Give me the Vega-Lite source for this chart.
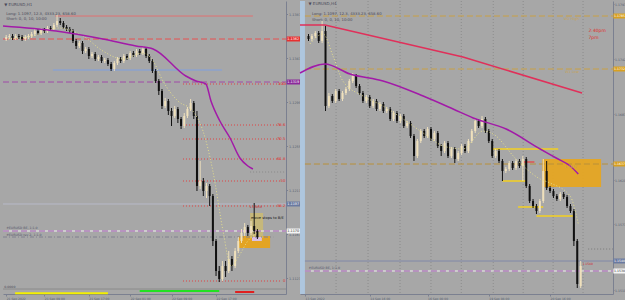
{
"$schema":"https://vega.github.io/schema/vega-lite/v6.json",
"background":"#a7a7a7",
"padding":0,
"spacing":14,
"bounds":"flush",
"config":{"view":{"stroke":null},"font":"DejaVu Sans"},
"datasets":{
"L":[{"i":0,"o":11362,"h":11366,"l":11360,"c":11364},{"i":1,"o":11364,"h":11367,"l":11362,"c":11365},{"i":2,"o":11365,"h":11367,"l":11361,"c":11363},{"i":3,"o":11363,"h":11367,"l":11361,"c":11365},{"i":4,"o":11365,"h":11367,"l":11362,"c":11364},{"i":5,"o":11364,"h":11366,"l":11360,"c":11362},{"i":6,"o":11362,"h":11366,"l":11360,"c":11364},{"i":7,"o":11364,"h":11367,"l":11362,"c":11365},{"i":8,"o":11365,"h":11369,"l":11363,"c":11367},{"i":9,"o":11367,"h":11372,"l":11365,"c":11370},{"i":10,"o":11370,"h":11372,"l":11366,"c":11368},{"i":11,"o":11368,"h":11373,"l":11366,"c":11371},{"i":12,"o":11371,"h":11373,"l":11368,"c":11370},{"i":13,"o":11370,"h":11375,"l":11368,"c":11373},{"i":14,"o":11373,"h":11375,"l":11370,"c":11372},{"i":15,"o":11372,"h":11378,"l":11370,"c":11376},{"i":16,"o":11376,"h":11386,"l":11374,"c":11380},{"i":17,"o":11380,"h":11383,"l":11376,"c":11378},{"i":18,"o":11378,"h":11380,"l":11372,"c":11374},{"i":19,"o":11374,"h":11376,"l":11370,"c":11372},{"i":20,"o":11372,"h":11374,"l":11368,"c":11370},{"i":21,"o":11370,"h":11372,"l":11358,"c":11360},{"i":22,"o":11360,"h":11362,"l":11352,"c":11355},{"i":23,"o":11355,"h":11360,"l":11353,"c":11358},{"i":24,"o":11358,"h":11360,"l":11347,"c":11350},{"i":25,"o":11350,"h":11354,"l":11348,"c":11352},{"i":26,"o":11352,"h":11354,"l":11342,"c":11345},{"i":27,"o":11345,"h":11349,"l":11343,"c":11347},{"i":28,"o":11347,"h":11349,"l":11340,"c":11342},{"i":29,"o":11342,"h":11346,"l":11340,"c":11344},{"i":30,"o":11344,"h":11346,"l":11338,"c":11340},{"i":31,"o":11340,"h":11343,"l":11338,"c":11341},{"i":32,"o":11341,"h":11343,"l":11335,"c":11337},{"i":33,"o":11337,"h":11339,"l":11330,"c":11332},{"i":34,"o":11332,"h":11340,"l":11330,"c":11338},{"i":35,"o":11338,"h":11344,"l":11336,"c":11342},{"i":36,"o":11342,"h":11344,"l":11338,"c":11340},{"i":37,"o":11340,"h":11347,"l":11338,"c":11345},{"i":38,"o":11345,"h":11347,"l":11341,"c":11343},{"i":39,"o":11343,"h":11350,"l":11341,"c":11348},{"i":40,"o":11348,"h":11350,"l":11344,"c":11346},{"i":41,"o":11346,"h":11352,"l":11344,"c":11350},{"i":42,"o":11350,"h":11352,"l":11346,"c":11348},{"i":43,"o":11348,"h":11355,"l":11346,"c":11352},{"i":44,"o":11352,"h":11354,"l":11343,"c":11345},{"i":45,"o":11345,"h":11347,"l":11338,"c":11340},{"i":46,"o":11340,"h":11342,"l":11328,"c":11330},{"i":47,"o":11330,"h":11332,"l":11318,"c":11320},{"i":48,"o":11320,"h":11322,"l":11306,"c":11310},{"i":49,"o":11310,"h":11312,"l":11292,"c":11295},{"i":50,"o":11295,"h":11303,"l":11293,"c":11300},{"i":51,"o":11300,"h":11302,"l":11286,"c":11290},{"i":52,"o":11290,"h":11293,"l":11275,"c":11285},{"i":53,"o":11285,"h":11295,"l":11283,"c":11292},{"i":54,"o":11292,"h":11294,"l":11278,"c":11282},{"i":55,"o":11282,"h":11284,"l":11272,"c":11275},{"i":56,"o":11275,"h":11288,"l":11273,"c":11285},{"i":57,"o":11285,"h":11294,"l":11283,"c":11292},{"i":58,"o":11292,"h":11302,"l":11290,"c":11298},{"i":59,"o":11298,"h":11300,"l":11282,"c":11285},{"i":60,"o":11285,"h":11290,"l":11210,"c":11215},{"i":61,"o":11215,"h":11240,"l":11212,"c":11220},{"i":62,"o":11220,"h":11223,"l":11205,"c":11210},{"i":63,"o":11210,"h":11218,"l":11203,"c":11215},{"i":64,"o":11215,"h":11217,"l":11195,"c":11205},{"i":65,"o":11205,"h":11207,"l":11155,"c":11160},{"i":66,"o":11160,"h":11162,"l":11125,"c":11130},{"i":67,"o":11130,"h":11135,"l":11119,"c":11122},{"i":68,"o":11122,"h":11140,"l":11120,"c":11135},{"i":69,"o":11135,"h":11140,"l":11124,"c":11130},{"i":70,"o":11130,"h":11150,"l":11128,"c":11142},{"i":71,"o":11142,"h":11145,"l":11130,"c":11135},{"i":72,"o":11135,"h":11153,"l":11133,"c":11150},{"i":73,"o":11150,"h":11164,"l":11148,"c":11160},{"i":74,"o":11160,"h":11172,"l":11158,"c":11168},{"i":75,"o":11168,"h":11178,"l":11165,"c":11174},{"i":76,"o":11174,"h":11176,"l":11165,"c":11168},{"i":77,"o":11168,"h":11180,"l":11166,"c":11175},{"i":78,"o":11175,"h":11198,"l":11167,"c":11170},{"i":79,"o":11170,"h":11172,"l":11162,"c":11164}],
"R":[{"i":0,"o":11765,"h":11767,"l":11760,"c":11762},{"i":1,"o":11762,"h":11767,"l":11760,"c":11765},{"i":2,"o":11765,"h":11770,"l":11763,"c":11768},{"i":3,"o":11768,"h":11770,"l":11758,"c":11760},{"i":4,"o":11760,"h":11780,"l":11758,"c":11770},{"i":5,"o":11770,"h":11775,"l":11690,"c":11695},{"i":6,"o":11695,"h":11708,"l":11693,"c":11705},{"i":7,"o":11705,"h":11707,"l":11698,"c":11700},{"i":8,"o":11700,"h":11712,"l":11698,"c":11710},{"i":9,"o":11710,"h":11712,"l":11700,"c":11702},{"i":10,"o":11702,"h":11710,"l":11700,"c":11708},{"i":11,"o":11708,"h":11714,"l":11706,"c":11712},{"i":12,"o":11712,"h":11722,"l":11710,"c":11720},{"i":13,"o":11720,"h":11728,"l":11718,"c":11725},{"i":14,"o":11725,"h":11727,"l":11713,"c":11715},{"i":15,"o":11715,"h":11717,"l":11706,"c":11708},{"i":16,"o":11708,"h":11710,"l":11698,"c":11700},{"i":17,"o":11700,"h":11706,"l":11698,"c":11704},{"i":18,"o":11704,"h":11706,"l":11693,"c":11695},{"i":19,"o":11695,"h":11702,"l":11693,"c":11700},{"i":20,"o":11700,"h":11702,"l":11690,"c":11692},{"i":21,"o":11692,"h":11699,"l":11690,"c":11697},{"i":22,"o":11697,"h":11699,"l":11688,"c":11690},{"i":23,"o":11690,"h":11694,"l":11688,"c":11692},{"i":24,"o":11692,"h":11694,"l":11680,"c":11682},{"i":25,"o":11682,"h":11690,"l":11680,"c":11688},{"i":26,"o":11688,"h":11690,"l":11678,"c":11680},{"i":27,"o":11680,"h":11687,"l":11678,"c":11685},{"i":28,"o":11685,"h":11687,"l":11673,"c":11675},{"i":29,"o":11675,"h":11680,"l":11673,"c":11678},{"i":30,"o":11678,"h":11680,"l":11663,"c":11665},{"i":31,"o":11665,"h":11667,"l":11640,"c":11645},{"i":32,"o":11645,"h":11662,"l":11643,"c":11660},{"i":33,"o":11660,"h":11672,"l":11658,"c":11670},{"i":34,"o":11670,"h":11672,"l":11663,"c":11665},{"i":35,"o":11665,"h":11674,"l":11663,"c":11672},{"i":36,"o":11672,"h":11674,"l":11660,"c":11662},{"i":37,"o":11662,"h":11670,"l":11660,"c":11668},{"i":38,"o":11668,"h":11670,"l":11653,"c":11655},{"i":39,"o":11655,"h":11657,"l":11645,"c":11650},{"i":40,"o":11650,"h":11660,"l":11648,"c":11658},{"i":41,"o":11658,"h":11660,"l":11643,"c":11645},{"i":42,"o":11645,"h":11654,"l":11643,"c":11652},{"i":43,"o":11652,"h":11654,"l":11638,"c":11642},{"i":44,"o":11642,"h":11650,"l":11640,"c":11648},{"i":45,"o":11648,"h":11657,"l":11646,"c":11655},{"i":46,"o":11655,"h":11657,"l":11648,"c":11650},{"i":47,"o":11650,"h":11662,"l":11648,"c":11660},{"i":48,"o":11660,"h":11672,"l":11658,"c":11670},{"i":49,"o":11670,"h":11683,"l":11668,"c":11680},{"i":50,"o":11680,"h":11682,"l":11673,"c":11675},{"i":51,"o":11675,"h":11685,"l":11673,"c":11682},{"i":52,"o":11682,"h":11684,"l":11668,"c":11670},{"i":53,"o":11670,"h":11672,"l":11658,"c":11660},{"i":54,"o":11660,"h":11662,"l":11643,"c":11645},{"i":55,"o":11645,"h":11652,"l":11643,"c":11650},{"i":56,"o":11650,"h":11652,"l":11638,"c":11640},{"i":57,"o":11640,"h":11642,"l":11620,"c":11630},{"i":58,"o":11630,"h":11634,"l":11628,"c":11632},{"i":59,"o":11632,"h":11640,"l":11630,"c":11638},{"i":60,"o":11638,"h":11640,"l":11631,"c":11633},{"i":61,"o":11633,"h":11642,"l":11631,"c":11640},{"i":62,"o":11640,"h":11642,"l":11633,"c":11635},{"i":63,"o":11635,"h":11645,"l":11620,"c":11642},{"i":64,"o":11642,"h":11644,"l":11613,"c":11615},{"i":65,"o":11615,"h":11617,"l":11598,"c":11600},{"i":66,"o":11600,"h":11602,"l":11593,"c":11595},{"i":67,"o":11595,"h":11597,"l":11587,"c":11590},{"i":68,"o":11590,"h":11602,"l":11588,"c":11600},{"i":69,"o":11600,"h":11642,"l":11598,"c":11630},{"i":70,"o":11630,"h":11640,"l":11611,"c":11613},{"i":71,"o":11613,"h":11615,"l":11608,"c":11610},{"i":72,"o":11610,"h":11612,"l":11603,"c":11605},{"i":73,"o":11605,"h":11607,"l":11600,"c":11602},{"i":74,"o":11602,"h":11609,"l":11600,"c":11607},{"i":75,"o":11607,"h":11609,"l":11602,"c":11604},{"i":76,"o":11604,"h":11606,"l":11593,"c":11595},{"i":77,"o":11595,"h":11597,"l":11588,"c":11590},{"i":78,"o":11590,"h":11592,"l":11555,"c":11560},{"i":79,"o":11560,"h":11562,"l":11513,"c":11517},{"i":80,"o":11515,"h":11540,"l":11513,"c":11535}],
"Lma":[{"i":-1,"v":11375},{"i":15.7,"v":11370},{"i":30.4,"v":11362},{"i":40.8,"v":11355},{"i":46.2,"v":11352},{"i":56.5,"v":11325},{"i":59.7,"v":11320},{"i":62.8,"v":11317},{"i":64.4,"v":11300},{"i":67.2,"v":11280},{"i":70.4,"v":11263},{"i":73.5,"v":11243},{"i":76,"v":11235},{"i":77.6,"v":11232}],
"Lfast":[{"i":0.6,"v":11362},{"i":8.4,"v":11365},{"i":16.3,"v":11373},{"i":24.2,"v":11365},{"i":30.4,"v":11350},{"i":36.7,"v":11342},{"i":43,"v":11348},{"i":46.2,"v":11340},{"i":49.3,"v":11320},{"i":54,"v":11300},{"i":58.7,"v":11290},{"i":61.9,"v":11270},{"i":65,"v":11230},{"i":68.2,"v":11170},{"i":70.7,"v":11135},{"i":73.2,"v":11145},{"i":76,"v":11160},{"i":79.2,"v":11168}],
"Rma1":[{"i":-2.5,"v":11776},{"i":4.85,"v":11776},{"i":45.4,"v":11744},{"i":80.4,"v":11708}],
"Rma2":[{"i":-2.5,"v":11728},{"i":4.85,"v":11737},{"i":12.2,"v":11727},{"i":21.9,"v":11720},{"i":33.7,"v":11705},{"i":42.5,"v":11692},{"i":48.4,"v":11683},{"i":58.1,"v":11672},{"i":68.1,"v":11652},{"i":72.8,"v":11643},{"i":76.9,"v":11635},{"i":79.3,"v":11627}],
"Rfast":[{"i":0.4,"v":11757},{"i":4.3,"v":11767},{"i":7.2,"v":11745},{"i":10.1,"v":11720},{"i":16,"v":11705},{"i":21.9,"v":11695},{"i":27.8,"v":11682},{"i":33.7,"v":11668},{"i":39.6,"v":11655},{"i":45.4,"v":11652},{"i":51.3,"v":11670},{"i":54.3,"v":11667},{"i":61,"v":11642},{"i":68.1,"v":11622},{"i":71,"v":11618},{"i":76.9,"v":11605},{"i":79.3,"v":11577}]
},
"hconcat":[
{
"width":283,"height":293,
"layer":[
{"data":{"values":[{"x":73.2,"x2":83,"y":11153,"y2":11165,"col":"#e3a424","op":1},{"x":76.7,"x2":80.8,"y":11163,"y2":11188,"col":"#cbbb72","op":0.85},{"x":77.3,"x2":80.4,"y":11160,"y2":11164,"col":"#d8c0e6","op":1}]},
 "mark":{"type":"rect"},
 "encoding":{
  "x":{"field":"x","type":"quantitative","title":null,"scale":{"domain":[-1,88],"nice":false,"zero":false},
   "axis":{"values":[0,6,12,19,26,33,39,45,52,59,66,72],"labelExpr":"['21 Sep 2022','21 Sep 05:00','21 Sep 09:00','21 Sep 13:00','21 Sep 17:00','21 Sep 21:00','22 Sep 01:00','22 Sep 05:00','22 Sep 09:00','22 Sep 13:00','22 Sep 17:00','22 Sep 21:00'][indexof([0,6,12,19,26,33,39,45,52,59,66,72],datum.value)]","labelAlign":"left","labelFontSize":3,"labelColor":"#566070","labelPadding":1,"tickSize":2,"tickColor":"#7b8090","domainColor":"#7b8090","grid":false,"labelOverlap":false,"labelBound":false,"labelFlush":false,"title":null}},
  "x2":{"field":"x2"},
  "y":{"field":"y","type":"quantitative","title":null,"scale":{"domain":[11107,11400],"nice":false,"zero":false},
   "axis":{"orient":"right","values":[11387,11376,11365,11354,11343,11332,11321,11310,11299,11288,11277,11266,11255,11244,11233,11222,11211,11200,11189,11178,11167,11156,11145,11134,11123],"labelExpr":"format(datum.value/10000,'.4f')","labelFontSize":3.4,"labelColor":"#566070","labelPadding":1,"tickSize":1.5,"tickColor":"#7b8090","domainColor":"#7b8090","grid":false,"labelOverlap":false,"labelBound":false,"labelFlush":false,"title":null}},
  "y2":{"field":"y2"},
  "color":{"field":"col","type":"nominal","scale":null},
  "opacity":{"field":"op","type":"quantitative","scale":null}}},
{"data":{"values":[{"x":15.4,"x2":77.6,"y":11385,"col":"#e07070"},{"x":14.7,"x2":67.9,"y":11331,"col":"#7f9fe0"},{"x":-1,"x2":88,"y":11197,"col":"#b7b9c8"},{"x":-1,"x2":88,"y":11170,"col":"#f2f2f2"},{"x":-1,"x2":88,"y":11112,"col":"#8a8a8a"}]},
 "mark":{"type":"rule","strokeWidth":1},
 "encoding":{"x":{"field":"x","type":"quantitative","title":null},"x2":{"field":"x2"},"y":{"field":"y","type":"quantitative","title":null},"color":{"field":"col","type":"nominal","scale":null}}},
{"data":{"values":[{"x":-1,"x2":88,"y":11362,"col":"#e85050"},{"x":-1,"x2":88,"y":11319,"col":"#a04aa8"},{"x":-1,"x2":88,"y":11170,"col":"#a05ab0"}]},
 "mark":{"type":"rule","strokeWidth":1,"strokeDash":[6,3]},
 "encoding":{"x":{"field":"x","type":"quantitative","title":null},"x2":{"field":"x2"},"y":{"field":"y","type":"quantitative","title":null},"color":{"field":"col","type":"nominal","scale":null}}},
{"data":{"values":[{"x":55.6,"x2":88,"y":11317,"col":"#e04040"},{"x":55.6,"x2":86.4,"y":11276,"col":"#e04040"},{"x":55.6,"x2":86.4,"y":11262,"col":"#e04040"},{"x":55.6,"x2":86.4,"y":11242,"col":"#e04040"},{"x":55.6,"x2":86.4,"y":11220,"col":"#e04040"},{"x":55.6,"x2":86.4,"y":11195,"col":"#e04040"},{"x":55.6,"x2":86.4,"y":11120,"col":"#e04040"},{"x":76.7,"x2":88,"y":11229,"col":"#8a8a8a"}]},
 "mark":{"type":"rule","strokeWidth":1,"strokeDash":[1,2]},
 "encoding":{"x":{"field":"x","type":"quantitative","title":null},"x2":{"field":"x2"},"y":{"field":"y","type":"quantitative","title":null},"color":{"field":"col","type":"nominal","scale":null}}},
{"data":{"values":[{"x":-1,"x2":84,"y":11164,"col":"#80808f"}]},
 "mark":{"type":"rule","strokeWidth":1,"strokeDash":[4,2,1,2]},
 "encoding":{"x":{"field":"x","type":"quantitative","title":null},"x2":{"field":"x2"},"y":{"field":"y","type":"quantitative","title":null},"color":{"field":"col","type":"nominal","scale":null}}},
{"data":{"name":"L"},
 "mark":{"type":"rule","strokeWidth":1},
 "encoding":{"x":{"field":"i","type":"quantitative","title":null},"y":{"field":"l","type":"quantitative","title":null},"y2":{"field":"h"},"color":{"condition":{"test":"datum.c >= datum.o","value":"#efe0bc"},"value":"#101010"}}},
{"data":{"name":"L"},
 "mark":{"type":"rule","strokeWidth":2},
 "encoding":{"x":{"field":"i","type":"quantitative","title":null},"y":{"field":"o","type":"quantitative","title":null},"y2":{"field":"c"},"color":{"condition":{"test":"datum.c >= datum.o","value":"#efe0bc"},"value":"#101010"}}},
{"data":{"name":"Lfast"},
 "mark":{"type":"line","strokeWidth":1,"strokeDash":[1,2],"color":"#e6df8c","interpolate":"monotone"},
 "encoding":{"x":{"field":"i","type":"quantitative","title":null},"y":{"field":"v","type":"quantitative","title":null}}},
{"data":{"name":"Lma"},
 "mark":{"type":"line","strokeWidth":1.5,"color":"#a21aa8","interpolate":"monotone"},
 "encoding":{"x":{"field":"i","type":"quantitative","title":null},"y":{"field":"v","type":"quantitative","title":null}}},
{"data":{"values":[{"x":2.8,"x2":32,"y":11107.7,"col":"#f4f000"},{"x":42,"x2":67,"y":11110,"col":"#22e022"},{"x":72,"x2":78,"y":11109,"col":"#e02020"}]},
 "mark":{"type":"rule","strokeWidth":2},
 "encoding":{"x":{"field":"x","type":"quantitative","title":null},"x2":{"field":"x2"},"y":{"field":"y","type":"quantitative","title":null},"color":{"field":"col","type":"nominal","scale":null}}},
{"data":{"values":[{"x":-0.6,"y":11396,"t":"▼ EURUSD,H1","col":"#4a4a5a","fs":4},{"x":0,"y":11387,"t":"Long: 1.1097, 12.3, 4333.23, 658.60","col":"#4a4a5a","fs":3.8},{"x":0,"y":11382,"t":"Short: 0, 0, 10, 10:00","col":"#4a4a5a","fs":3.8},{"x":77,"y":11183,"t":"move stops to B/E","col":"#111111","fs":3.6},{"x":-0.6,"y":11114,"t":"0.0000","col":"#4a4a5a","fs":3.2},{"x":0,"y":11173,"t":"#EURUSD BE, 1:1.0","col":"#55556a","fs":3.2},{"x":0,"y":11166.5,"t":"#EURUSD rev 2, 1:1.0","col":"#55556a","fs":3.2},{"x":76.5,"y":11194,"t":"1.11950","col":"#c02828","fs":3}]},
 "mark":{"type":"text","align":"left","baseline":"middle"},
 "encoding":{"x":{"field":"x","type":"quantitative","title":null},"y":{"field":"y","type":"quantitative","title":null},"text":{"field":"t"},"color":{"field":"col","type":"nominal","scale":null},"size":{"field":"fs","type":"quantitative","scale":null}}},
{"data":{"values":[{"x":87.8,"y":11317,"t":"100"},{"x":87.8,"y":11276,"t":"78.6"},{"x":87.8,"y":11262,"t":"70.5"},{"x":87.8,"y":11242,"t":"61.8"},{"x":87.8,"y":11220,"t":"50"},{"x":87.8,"y":11195,"t":"38.2"},{"x":87.8,"y":11120,"t":"0"}]},
 "mark":{"type":"text","align":"right","baseline":"middle","fontSize":3.8,"color":"#e03030"},
 "encoding":{"x":{"field":"x","type":"quantitative","title":null},"y":{"field":"y","type":"quantitative","title":null},"text":{"field":"t"}}},
{"data":{"values":[{"x":88.2,"x2":92.4,"y":11359.5,"y2":11364.5,"col":"#e83030"},{"x":88.2,"x2":92.4,"y":11316.5,"y2":11321.5,"col":"#8a2a9a"},{"x":88.2,"x2":92.4,"y":11194.5,"y2":11199.5,"col":"#6a7aa0"},{"x":88.2,"x2":92.4,"y":11167.5,"y2":11172.5,"col":"#f4f4f4"}]},
 "mark":{"type":"rect"},
 "encoding":{"x":{"field":"x","type":"quantitative","title":null},"x2":{"field":"x2"},"y":{"field":"y","type":"quantitative","title":null},"y2":{"field":"y2"},"color":{"field":"col","type":"nominal","scale":null}}},
{"data":{"values":[{"x":88.4,"y":11362,"t":"1.1362","col":"#ffffff"},{"x":88.4,"y":11319,"t":"1.1319","col":"#ffffff"},{"x":88.4,"y":11197,"t":"1.1197","col":"#ffffff"},{"x":88.4,"y":11170,"t":"1.1170","col":"#333333"}]},
 "mark":{"type":"text","align":"left","baseline":"middle","fontSize":3.4},
 "encoding":{"x":{"field":"x","type":"quantitative","title":null},"y":{"field":"y","type":"quantitative","title":null},"text":{"field":"t"},"color":{"field":"col","type":"nominal","scale":null}}}
]
},
{
"width":313,"height":293,
"layer":[
{"data":{"values":[{"x":-2.5,"x2":-1.05,"y":11507,"y2":11800}]},
 "mark":{"type":"rect","color":"#aec6de"},
 "encoding":{
  "x":{"field":"x","type":"quantitative","title":null,"scale":{"domain":[-2.5,89.5],"nice":false,"zero":false},
   "axis":{"values":[-1,8,18,26,35,43,53,62,71,80],"labelExpr":"['13 Sep 2022','14 Sep 00:00','14 Sep 16:00','15 Sep 08:00','16 Sep 00:00','16 Sep 16:00','19 Sep 08:00','20 Sep 00:00','20 Sep 16:00','21 Sep 08:00'][indexof([-1,8,18,26,35,43,53,62,71,80],datum.value)]","labelAlign":"left","labelFontSize":3,"labelColor":"#566070","labelPadding":1,"tickSize":2,"tickColor":"#7b8090","domainColor":"#7b8090","grid":false,"labelOverlap":false,"labelBound":false,"labelFlush":false,"title":null}},
  "x2":{"field":"x2"},
  "y":{"field":"y","type":"quantitative","title":null,"scale":{"domain":[11507,11800],"nice":false,"zero":false},
   "axis":{"orient":"right","values":[11797,11775,11764,11753,11742,11720,11709,11698,11687,11676,11665,11654,11621,11610,11599,11588,11577,11566,11555,11522,11511],"labelExpr":"format(datum.value/10000,'.4f')","labelFontSize":3.1,"labelColor":"#566070","labelPadding":0.5,"tickSize":1,"tickColor":"#7b8090","domainColor":"#7b8090","grid":false,"labelOverlap":false,"labelBound":false,"labelFlush":false,"title":null}},
  "y2":{"field":"y2"}}},
{"data":{"values":[{"x":8.1},{"x":17.5},{"x":26.9},{"x":36},{"x":44.9},{"x":54.3},{"x":63.1},{"x":71.9},{"x":80.7}]},
 "mark":{"type":"rule","strokeWidth":1,"strokeDash":[1,2],"color":"#8c8c8c"},
 "encoding":{"x":{"field":"x","type":"quantitative","title":null}}},
{"data":{"values":[{"x":68.7,"x2":86,"y":11614,"y2":11642}]},
 "mark":{"type":"rect","color":"#e5a522","opacity":0.95},
 "encoding":{"x":{"field":"x","type":"quantitative","title":null},"x2":{"field":"x2"},"y":{"field":"y","type":"quantitative","title":null},"y2":{"field":"y2"}}},
{"data":{"values":[{"x":-1.05,"x2":89.5,"y":11540,"col":"#8088a8"},{"x":-1.05,"x2":89.5,"y":11530,"col":"#f0f0f0"}]},
 "mark":{"type":"rule","strokeWidth":1},
 "encoding":{"x":{"field":"x","type":"quantitative","title":null},"x2":{"field":"x2"},"y":{"field":"y","type":"quantitative","title":null},"color":{"field":"col","type":"nominal","scale":null}}},
{"data":{"values":[{"x":-1.05,"x2":89.5,"y":11785,"col":"#c9a045"},{"x":-1.05,"x2":89.5,"y":11732,"col":"#c9a045"},{"x":-1.05,"x2":89.5,"y":11637,"col":"#b8903a"},{"x":-1.05,"x2":89.5,"y":11530,"col":"#a05ab0"}]},
 "mark":{"type":"rule","strokeWidth":1,"strokeDash":[6,3]},
 "encoding":{"x":{"field":"x","type":"quantitative","title":null},"x2":{"field":"x2"},"y":{"field":"y","type":"quantitative","title":null},"color":{"field":"col","type":"nominal","scale":null}}},
{"data":{"values":[{"x":82.2,"x2":89.5,"y":11552,"col":"#7a7a7a"}]},
 "mark":{"type":"rule","strokeWidth":1,"strokeDash":[1,2]},
 "encoding":{"x":{"field":"x","type":"quantitative","title":null},"x2":{"field":"x2"},"y":{"field":"y","type":"quantitative","title":null},"color":{"field":"col","type":"nominal","scale":null}}},
{"data":{"values":[{"x":53.7,"x2":73.4,"y":11652,"col":"#f5d020"},{"x":57,"x2":64,"y":11620,"col":"#f5d020"},{"x":61.6,"x2":69,"y":11594,"col":"#f5d020"},{"x":67,"x2":77.8,"y":11585,"col":"#f5d020"},{"x":62.8,"x2":66.4,"y":11639,"col":"#e05050"}]},
 "mark":{"type":"rule","strokeWidth":1.5},
 "encoding":{"x":{"field":"x","type":"quantitative","title":null},"x2":{"field":"x2"},"y":{"field":"y","type":"quantitative","title":null},"color":{"field":"col","type":"nominal","scale":null}}},
{"data":{"name":"R"},
 "mark":{"type":"rule","strokeWidth":1},
 "encoding":{"x":{"field":"i","type":"quantitative","title":null},"y":{"field":"l","type":"quantitative","title":null},"y2":{"field":"h"},"color":{"condition":{"test":"datum.c >= datum.o","value":"#efe0bc"},"value":"#101010"}}},
{"data":{"name":"R"},
 "mark":{"type":"rule","strokeWidth":2},
 "encoding":{"x":{"field":"i","type":"quantitative","title":null},"y":{"field":"o","type":"quantitative","title":null},"y2":{"field":"c"},"color":{"condition":{"test":"datum.c >= datum.o","value":"#efe0bc"},"value":"#101010"}}},
{"data":{"name":"Rfast"},
 "mark":{"type":"line","strokeWidth":1,"strokeDash":[1,2],"color":"#e6df8c","interpolate":"monotone"},
 "encoding":{"x":{"field":"i","type":"quantitative","title":null},"y":{"field":"v","type":"quantitative","title":null}}},
{"data":{"name":"Rma1"},
 "mark":{"type":"line","strokeWidth":1.5,"color":"#e0305a"},
 "encoding":{"x":{"field":"i","type":"quantitative","title":null},"y":{"field":"v","type":"quantitative","title":null}}},
{"data":{"name":"Rma2"},
 "mark":{"type":"line","strokeWidth":1.5,"color":"#a21aa8","interpolate":"monotone"},
 "encoding":{"x":{"field":"i","type":"quantitative","title":null},"y":{"field":"v","type":"quantitative","title":null}}},
{"data":{"values":[{"x":0,"y":11797,"t":"▼ EURUSD,H4","col":"#4a4a5a","fs":4},{"x":1,"y":11787,"t":"Long: 1.1097, 12.3, 4333.23, 658.60","col":"#4a4a5a","fs":3.8},{"x":1,"y":11781,"t":"Short: 0, 0, 10, 10:00","col":"#4a4a5a","fs":3.8},{"x":0,"y":11533,"t":"#EURUSD BE, 1:1.0","col":"#55556a","fs":3.2},{"x":82.3,"y":11770,"t":"2:40pm","col":"#e02828","fs":4.5},{"x":82.3,"y":11763,"t":"7pm","col":"#e02828","fs":4.5},{"x":80.5,"y":11537,"t":"1.1540","col":"#d02828","fs":3}]},
 "mark":{"type":"text","align":"left","baseline":"middle"},
 "encoding":{"x":{"field":"x","type":"quantitative","title":null},"y":{"field":"y","type":"quantitative","title":null},"text":{"field":"t"},"color":{"field":"col","type":"nominal","scale":null},"size":{"field":"fs","type":"quantitative","scale":null}}},
{"data":{"values":[{"x":79.5,"y":11782,"t":"W1 High"},{"x":79.5,"y":11729,"t":"W1 Low"},{"x":79,"y":11634,"t":"1.1637"}]},
 "mark":{"type":"text","align":"right","baseline":"middle","fontSize":3.6,"color":"#c4a45c"},
 "encoding":{"x":{"field":"x","type":"quantitative","title":null},"y":{"field":"y","type":"quantitative","title":null},"text":{"field":"t"}}},
{"data":{"values":[{"x":89.6,"x2":94,"y":11782.5,"y2":11787.5,"col":"#d8a020"},{"x":89.6,"x2":94,"y":11729.5,"y2":11734.5,"col":"#d8a020"},{"x":89.6,"x2":94,"y":11634.5,"y2":11639.5,"col":"#d8a020"},{"x":89.6,"x2":94,"y":11537.5,"y2":11542.5,"col":"#6a7aa0"},{"x":89.6,"x2":94,"y":11527.5,"y2":11532.5,"col":"#f4f4f4"}]},
 "mark":{"type":"rect"},
 "encoding":{"x":{"field":"x","type":"quantitative","title":null},"x2":{"field":"x2"},"y":{"field":"y","type":"quantitative","title":null},"y2":{"field":"y2"},"color":{"field":"col","type":"nominal","scale":null}}},
{"data":{"values":[{"x":89.8,"y":11785,"t":"1.1785","col":"#ffffff"},{"x":89.8,"y":11732,"t":"1.1732","col":"#ffffff"},{"x":89.8,"y":11637,"t":"1.1637","col":"#ffffff"},{"x":89.8,"y":11540,"t":"1.1540","col":"#ffffff"},{"x":89.8,"y":11530,"t":"1.1530","col":"#333333"}]},
 "mark":{"type":"text","align":"left","baseline":"middle","fontSize":3.1},
 "encoding":{"x":{"field":"x","type":"quantitative","title":null},"y":{"field":"y","type":"quantitative","title":null},"text":{"field":"t"},"color":{"field":"col","type":"nominal","scale":null}}}
]
}
]
}
